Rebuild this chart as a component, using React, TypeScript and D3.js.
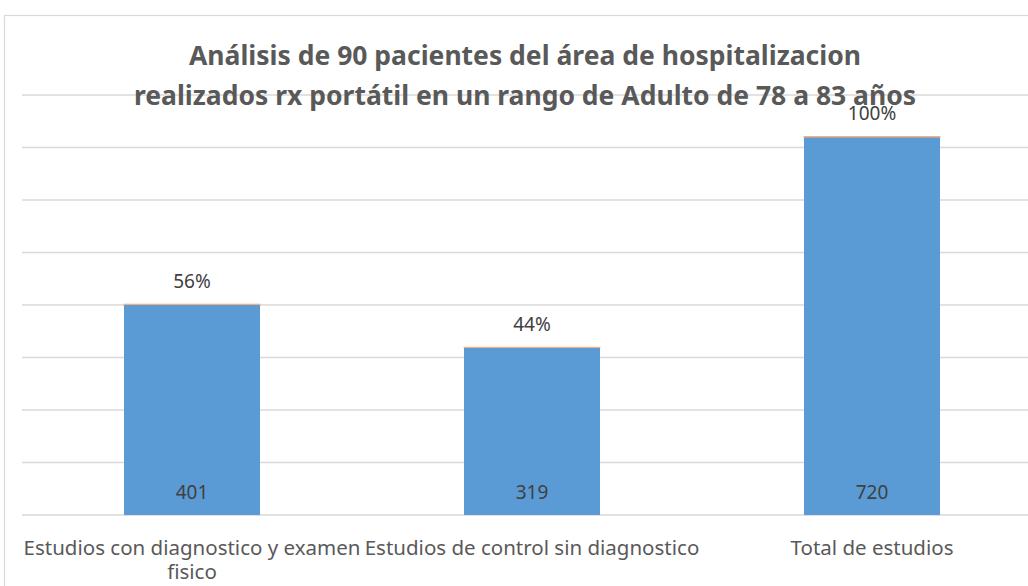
import React from 'react';
import * as d3 from 'd3';

const categories = [
  ['Estudios con diagnostico y examen', 'fisico'],
  ['Estudios de control sin diagnostico'],
  ['Total de estudios'],
];
const counts = [401, 319, 720];
const shares = [0.56, 0.44, 1];
const shareLabels = ['56%', '44%', '100%'];
const yTicks = [0, 100, 200, 300, 400, 500, 600, 700, 800];
const titleLines = [
  'Análisis de 90 pacientes del área de hospitalizacion',
  'realizados rx portátil en un rango de Adulto de 78 a 83 años',
];

const W = 1028;
const H = 586;
const FONT = "'Noto Sans', sans-serif";

export default function App() {
  const x = d3
    .scaleBand<number>()
    .domain(d3.range(categories.length))
    .range([22, 1042])
    .paddingInner(0.6)
    .paddingOuter(0.3);

  const y = d3.scaleLinear().domain([0, 800]).range([515, 95]);

  return (
    <svg
      width={W}
      height={H}
      style={{ position: 'absolute', left: 0, top: 0, background: '#fff' }}
      fontFamily={FONT}
    >
      <rect x={4.5} y={15.5} width={1100} height={700} fill="#fff" stroke="#d9d9d9" strokeWidth={1.2} />

      {yTicks.map((t) => (
        <line key={t} x1={22} x2={W} y1={y(t)} y2={y(t)} stroke="#d9d9d9" strokeWidth={1.5} />
      ))}

      {counts.map((v, i) => (
        <g key={i}>
          <rect x={x(i)} y={y(v)} width={x.bandwidth()} height={y(0) - y(v)} fill="#5b9bd5" />
          <rect
            x={x(i)}
            y={y(v + shares[i])}
            width={x.bandwidth()}
            height={y(v) - y(v + shares[i])}
            fill="#ed7d31"
            stroke="#f4b183"
            strokeWidth={1}
          />
          <text
            x={x(i)! + x.bandwidth() / 2}
            y={y(0) - 16}
            textAnchor="middle"
            fontSize={19}
            fill="#404040"
          >
            {v}
          </text>
          <text
            x={x(i)! + x.bandwidth() / 2}
            y={y(v + shares[i]) - 16}
            textAnchor="middle"
            fontSize={19}
            fill="#404040"
          >
            {shareLabels[i]}
          </text>
          {categories[i].map((line, j) => (
            <text
              key={j}
              x={x(i)! + x.bandwidth() / 2}
              y={555 + j * 24}
              textAnchor="middle"
              fontSize={20.5}
              fill="#595959"
            >
              {line}
            </text>
          ))}
        </g>
      ))}

      {titleLines.map((t, i) => (
        <text
          key={i}
          x={525}
          y={65 + i * 40}
          textAnchor="middle"
          fontSize={26.5}
          fontWeight="bold"
          fill="#595959"
        >
          {t}
        </text>
      ))}
    </svg>
  );
}
